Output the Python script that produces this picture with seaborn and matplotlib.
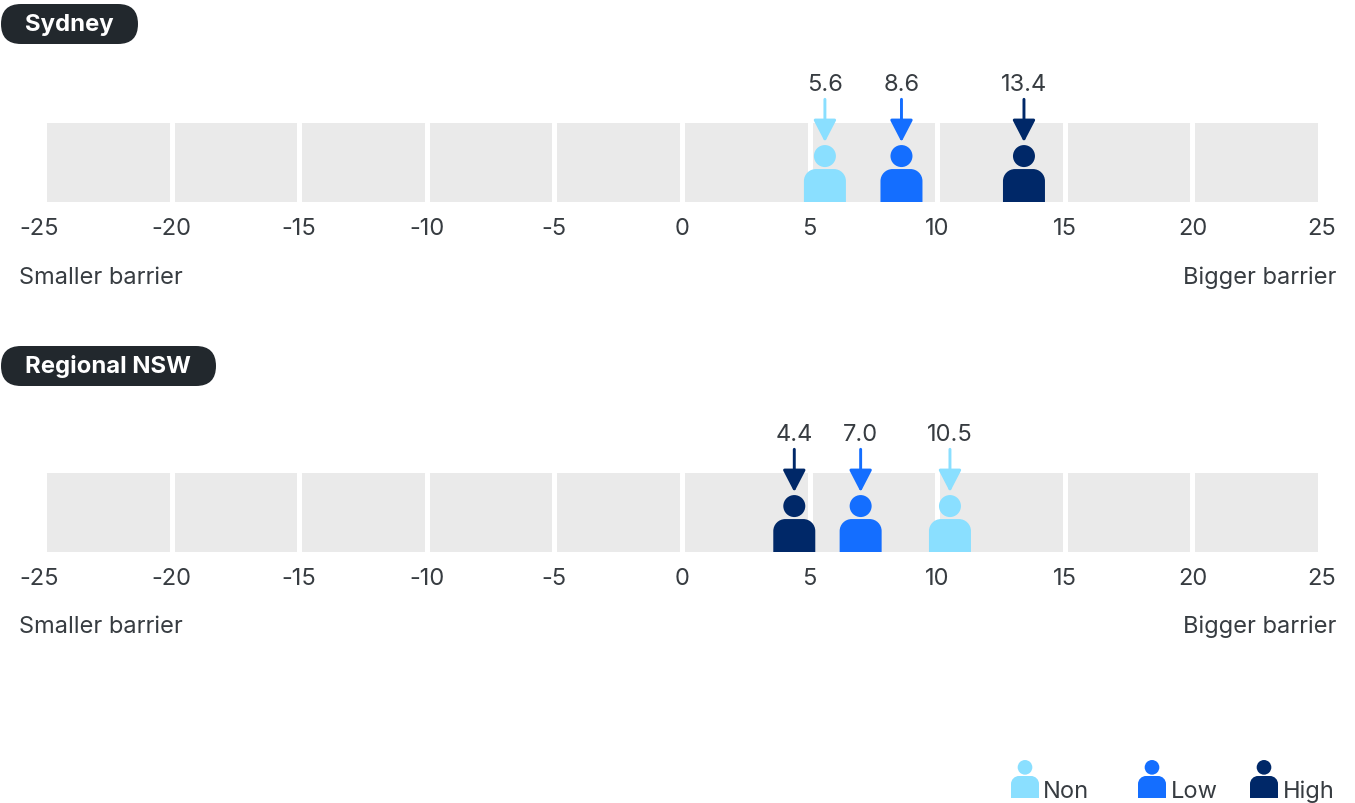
import numpy as np
import pandas as pd
import matplotlib
matplotlib.use("Agg")
import matplotlib.pyplot as plt
import seaborn as sns
from matplotlib.markers import MarkerStyle
from matplotlib.patches import FancyBboxPatch
from matplotlib.path import Path
from matplotlib.transforms import Affine2D, ScaledTranslation

# Data
panel_names = ["Sydney", "Regional NSW"]
groups = ["Non", "Low", "High"]
sydney_values = [5.6, 8.6, 13.4]
regional_values = [10.5, 7.0, 4.4]
tick_values = [-25, -20, -15, -10, -5, 0, 5, 10, 15, 20, 25]
left_caption = "Smaller barrier"
right_caption = "Bigger barrier"

# Styling
W, H = 1355, 804
FONT = "Inter"
FS = 17.0
INK = "#373C41"
BAND = "#EAEAEA"
PILL = "#22282D"
palette = {"Non": "#8ADFFF", "Low": "#146EFF", "High": "#002868"}

sns.set_theme(style="white", rc={
    "axes.facecolor": BAND,
    "axes.grid": True,
    "axes.grid.axis": "x",
    "grid.color": "white",
    "grid.linewidth": 3.6,
})
plt.rcParams["font.family"] = [FONT, "DejaVu Sans"]
plt.rcParams["text.color"] = INK

fig = plt.figure(figsize=(W / 100, H / 100), dpi=100)
px = Affine2D().scale(1 / W, -1 / H).translate(0, 1) + fig.transFigure


def person_marker():
    """Head and rounded-shoulder body as one closed path, centred on the origin."""
    half_w, bottom, top, r = 21.0, -28.5, 4.5, 12.0
    k = 0.5523 * r
    body = Path(
        [(-half_w, bottom), (-half_w, top - r),
         (-half_w, top - r + k), (-half_w + r - k, top), (-half_w + r, top),
         (half_w - r, top),
         (half_w - r + k, top), (half_w, top - r + k), (half_w, top - r),
         (half_w, bottom), (-half_w, bottom)],
        [Path.MOVETO, Path.LINETO,
         Path.CURVE4, Path.CURVE4, Path.CURVE4,
         Path.LINETO,
         Path.CURVE4, Path.CURVE4, Path.CURVE4,
         Path.LINETO, Path.CLOSEPOLY],
    )
    head = Path.circle((0, 17.5), 11.0)
    return MarkerStyle(Path.make_compound_path(head, body))


PERSON = person_marker()


def draw_panel(name, values, band_top, pill_top, pill_width, label_y_px):
    ax = fig.add_axes([44 / W, 1 - (band_top + 79) / H, 1276 / W, 79 / H])
    df = pd.DataFrame({"value": values, "group": groups, "row": 0.36})
    sns.scatterplot(data=df, x="value", y="row", hue="group", palette=palette,
                    marker=PERSON, s=1684, linewidth=0, legend=False, ax=ax, zorder=3)
    for value, group in zip(values, groups):
        ax.annotate("", xy=(value, 0.76), xytext=(value, 1.30),
                    arrowprops=dict(arrowstyle="-|>,head_width=7.0,head_length=13.5",
                                    mutation_scale=1, lw=2.1, color=palette[group],
                                    shrinkA=0, shrinkB=0), zorder=4)
        ax.text(value, 1.495, f"{value:.1f}", ha="center", va="center",
                fontsize=FS, color=INK, clip_on=False)

    ax.set_xlim(-25, 25)
    ax.set_ylim(0, 1)
    ax.set_xticks(tick_values)
    ax.set_xticklabels([str(t) for t in tick_values])
    ax.set_yticks([])
    ax.set_xlabel("")
    ax.set_ylabel("")
    ax.tick_params(axis="x", length=0, pad=10.5, labelsize=FS, labelcolor=INK)
    sns.despine(ax=ax, left=True, bottom=True)

    # The outer labels sit just beyond the band ends
    labels = ax.get_xticklabels()
    labels[0].set_transform(labels[0].get_transform() + ScaledTranslation(-5 / 100, 0, fig.dpi_scale_trans))
    labels[-1].set_transform(labels[-1].get_transform() + ScaledTranslation(2 / 100, 0, fig.dpi_scale_trans))

    fig.text(19, label_y_px, left_caption, transform=px, ha="left", va="center", fontsize=FS, color=INK)
    fig.text(1336, label_y_px, right_caption, transform=px, ha="right", va="center", fontsize=FS, color=INK)

    fig.add_artist(FancyBboxPatch((1, pill_top), pill_width, 40, transform=px,
                                  boxstyle="round,pad=0,rounding_size=20",
                                  facecolor=PILL, edgecolor="none"))
    fig.text(25, pill_top + 20, name, transform=px, ha="left", va="center",
             fontsize=FS + 0.2, fontweight="bold", color="white")


draw_panel(panel_names[0], sydney_values, 124, 5, 137, 278)
draw_panel(panel_names[1], regional_values, 474, 347, 215, 627)

# Key along the bottom right, laid out in figure pixels
key_ax = fig.add_axes([0, 0, 1, 54 / H])
key_ax.set_xlim(0, W)
key_ax.set_ylim(804, 750)
key_ax.axis("off")
key_x = {"Non": 1025, "Low": 1152, "High": 1264}
key_text_x = {"Non": 1043, "Low": 1171, "High": 1283}
key_df = pd.DataFrame({"x": [key_x[g] for g in groups], "y": 780.0, "group": groups})
sns.scatterplot(data=key_df, x="x", y="y", hue="group", palette=palette, marker=PERSON,
                s=748, linewidth=0, legend=False, ax=key_ax, clip_on=False)
key_ax.set_xlabel("")
key_ax.set_ylabel("")
for g in groups:
    key_ax.text(key_text_x[g], 792, g, ha="left", va="center", fontsize=FS, color=INK)

fig.savefig("out.png", dpi=100, facecolor="white")
